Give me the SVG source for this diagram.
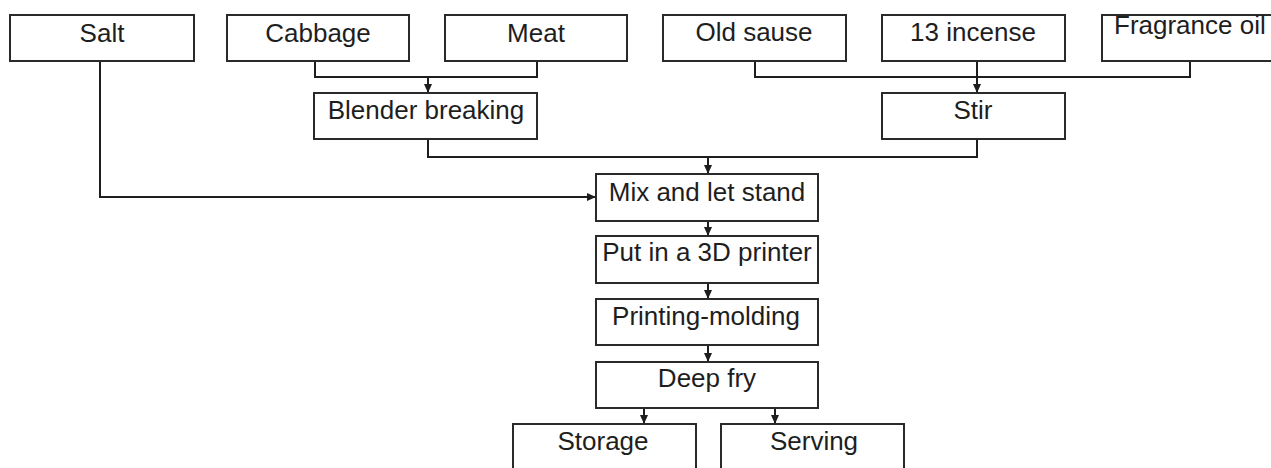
<svg xmlns="http://www.w3.org/2000/svg" width="1271" height="468" viewBox="0 0 1271 468">
<style>
.box{fill:#fff;stroke:#2a2a2a;stroke-width:2}
.lbl{font-family:"Liberation Sans",Arial,sans-serif;font-size:26px;fill:#1e1e1e;text-anchor:middle}
.con{fill:none;stroke:#1e1e1e;stroke-width:2}
</style>
<defs>
<marker id="ah" markerUnits="userSpaceOnUse" markerWidth="9" markerHeight="9" refX="9" refY="4.5" orient="auto">
<path d="M0,0.5 L9,4.5 L0,8.5 z" fill="#1e1e1e"/>
</marker>
</defs>
<rect width="1271" height="468" fill="#fff"/>
<g id="connectors">
<path class="con" d="M315 61 V77 H537 V61"/>
<path class="con" d="M428 77 V93" marker-end="url(#ah)"/>
<path class="con" d="M755 61 V77 H1190 V61"/>
<path class="con" d="M977 61 V93" marker-end="url(#ah)"/>
<path class="con" d="M428 139 V157 H977 V139"/>
<path class="con" d="M708 157 V174" marker-end="url(#ah)"/>
<path class="con" d="M100 61 V197 H596" marker-end="url(#ah)"/>
<path class="con" d="M708 221 V236" marker-end="url(#ah)"/>
<path class="con" d="M708 283 V299" marker-end="url(#ah)"/>
<path class="con" d="M708 345 V362" marker-end="url(#ah)"/>
<path class="con" d="M644 408 V424" marker-end="url(#ah)"/>
<path class="con" d="M775 408 V424" marker-end="url(#ah)"/>
</g>
<g id="salt"><rect class="box" x="10" y="15" width="184" height="46"/><text class="lbl" x="102" y="42">Salt</text></g>
<g id="cabbage"><rect class="box" x="227" y="15" width="182" height="46"/><text class="lbl" x="318" y="42">Cabbage</text></g>
<g id="meat"><rect class="box" x="445" y="15" width="182" height="46"/><text class="lbl" x="536" y="42">Meat</text></g>
<g id="old-sause"><rect class="box" x="663" y="15" width="183" height="46"/><text class="lbl" x="754" y="41">Old sause</text></g>
<g id="incense"><rect class="box" x="882" y="15" width="183" height="46"/><text class="lbl" x="973" y="41">13 incense</text></g>
<g id="fragrance"><rect class="box" x="1102" y="15" width="183" height="46"/><text class="lbl" x="1114" y="34" style="text-anchor:start">Fragrance oil</text></g>
<g id="blender"><rect class="box" x="314" y="93" width="223" height="46"/><text class="lbl" x="426" y="119">Blender breaking</text></g>
<g id="stir"><rect class="box" x="882" y="93" width="183" height="46"/><text class="lbl" x="973" y="119">Stir</text></g>
<g id="mix"><rect class="box" x="596" y="174" width="222" height="47"/><text class="lbl" x="707" y="201">Mix and let stand</text></g>
<g id="put"><rect class="box" x="596" y="236" width="222" height="47"/><text class="lbl" x="707" y="261">Put in a 3D printer</text></g>
<g id="printing"><rect class="box" x="596" y="299" width="222" height="46"/><text class="lbl" x="706" y="325">Printing-molding</text></g>
<g id="deepfry"><rect class="box" x="596" y="362" width="222" height="46"/><text class="lbl" x="707" y="387">Deep fry</text></g>
<g id="storage"><rect class="box" x="513" y="424" width="183" height="60"/><text class="lbl" x="603" y="450">Storage</text></g>
<g id="serving"><rect class="box" x="721" y="424" width="183" height="60"/><text class="lbl" x="814" y="450">Serving</text></g>
</svg>
